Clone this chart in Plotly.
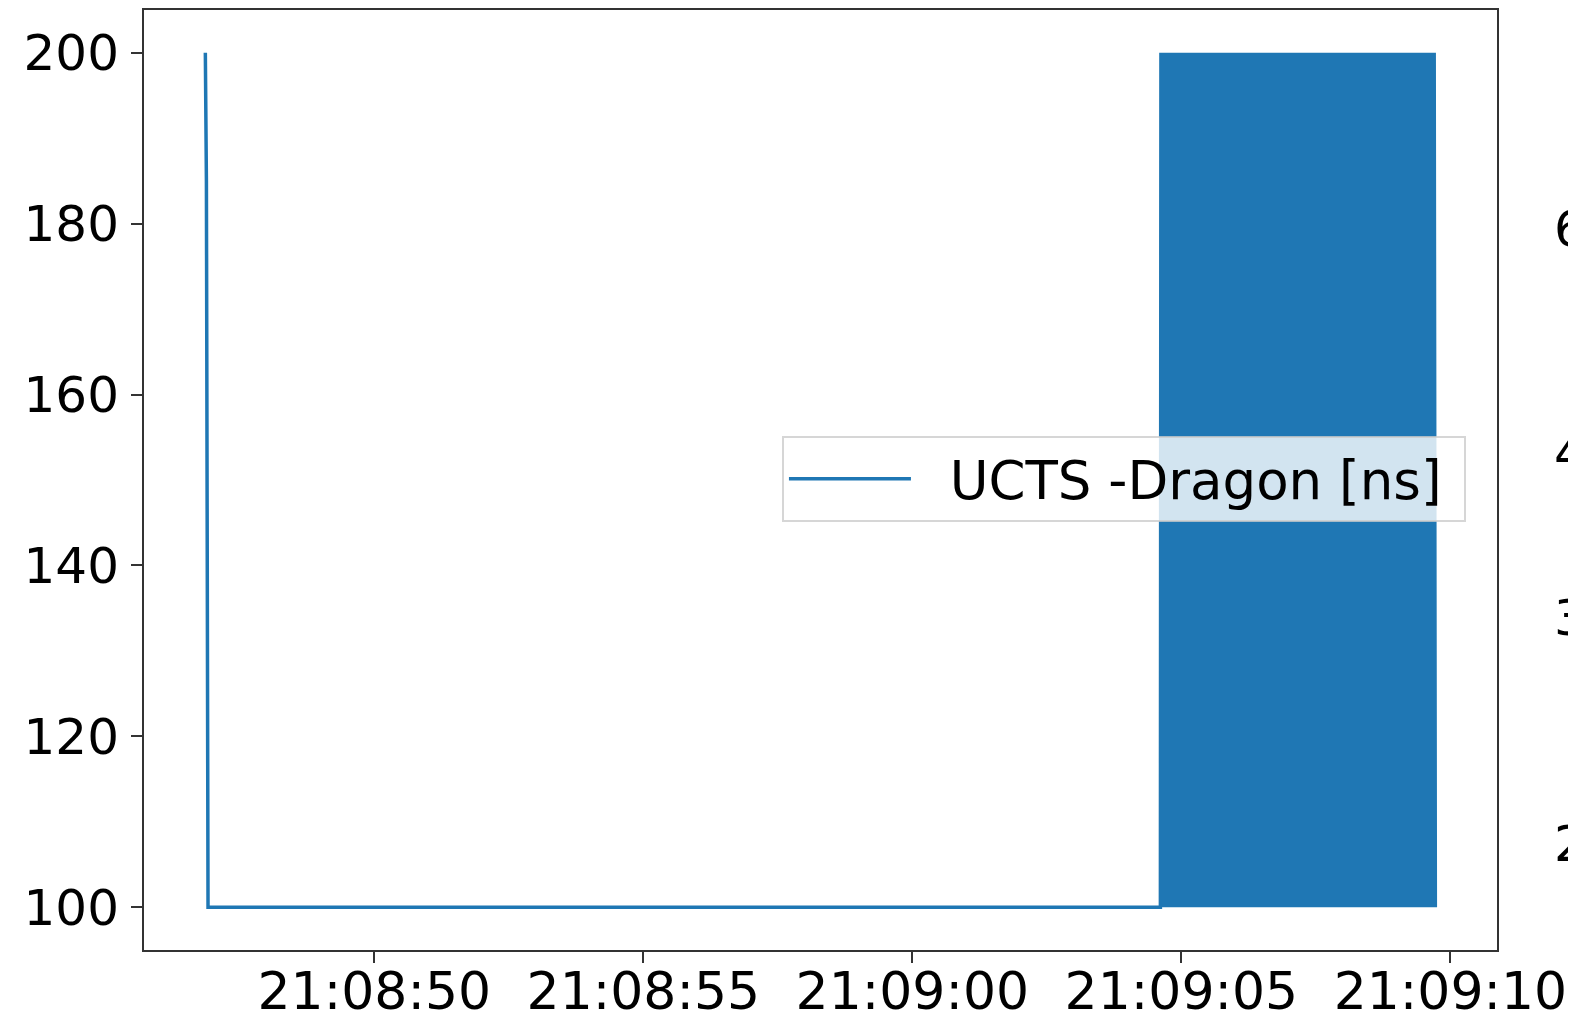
import pandas as pd
import plotly.graph_objects as go

DAY = "2019-11-20 "

# Sparse part of the series: initial spike, then flat at 100 ns
lead_times = ["21:08:46.86", "21:08:46.88", "21:08:46.91", "21:09:04.61"]
lead_values = [200, 185, 100, 100]

# Dense oscillating part (values read as alternating 200 / 100 ns)
dense_start = "21:09:04.62"
dense_end = "21:09:09.72"
dense_values = [
    200, 100, 200, 100, 200, 100, 200, 100, 200, 100, 200, 100, 200, 100, 200, 100, 200, 100, 200, 100,
    200, 100, 200, 100, 200, 100, 200, 100, 200, 100, 200, 100, 200, 100, 200, 100, 200, 100, 200, 100,
    200, 100, 200, 100, 200, 100, 200, 100, 200, 100, 200, 100, 200, 100, 200, 100, 200, 100, 200, 100,
    200, 100, 200, 100, 200, 100, 200, 100, 200, 100, 200, 100, 200, 100, 200, 100, 200, 100, 200, 100,
    200, 100, 200, 100, 200, 100, 200, 100, 200, 100, 200, 100, 200, 100, 200, 100, 200, 100, 200, 100,
    200, 100, 200, 100, 200, 100, 200, 100, 200, 100, 200, 100, 200, 100, 200, 100, 200, 100, 200, 100,
    200, 100, 200, 100, 200, 100, 200, 100, 200, 100, 200, 100, 200, 100, 200, 100, 200, 100, 200, 100,
    200, 100, 200, 100, 200, 100, 200, 100, 200, 100, 200, 100, 200, 100, 200, 100, 200, 100, 200, 100,
    200, 100, 200, 100, 200, 100, 200, 100, 200, 100, 200, 100, 200, 100, 200, 100, 200, 100, 200, 100,
    200, 100, 200, 100, 200, 100, 200, 100, 200, 100, 200, 100, 200, 100, 200, 100, 200, 100, 200, 100,
    200, 100, 200, 100, 200, 100, 200, 100, 200, 100, 200, 100, 200, 100, 200, 100, 200, 100, 200, 100,
    200, 100, 200, 100, 200, 100, 200, 100, 200, 100, 200, 100, 200, 100, 200, 100, 200, 100, 200, 100,
]

series_name = "UCTS -Dragon [ns]"
y_ticks = [100, 120, 140, 160, 180, 200]
x_ticks = ["21:08:50", "21:08:55", "21:09:00", "21:09:05", "21:09:10"]
x_range = ["21:08:45.72", "21:09:10.866"]
y_range = [95, 205]

# Neighbouring subplot's tick labels, cut off at the right edge (as in the source image)
side_labels = ["6", "4", "3", "2"]
side_label_pos = [0.767, 0.528, 0.353, 0.113]

lead_t = pd.to_datetime([DAY + t for t in lead_times])
dense_t = pd.date_range(DAY + dense_start, DAY + dense_end, periods=len(dense_values))
times = list(lead_t) + list(dense_t)
values = lead_values + dense_values

FONT = "DejaVu Sans"
BLUE = "#1f77b4"

fig = go.Figure()
fig.add_trace(go.Scatter(
    x=times, y=values, mode="lines", name="\u00a0\u00a0" + series_name + "\u00a0",
    line=dict(color=BLUE, width=3.5),
    showlegend=True,
))

# page body has an 8px default margin, so the figure is 8px smaller than the window
fig.update_layout(
    width=1568, height=1012,
    margin=dict(l=136, r=79, t=2, b=70, autoexpand=False),
    paper_bgcolor="white", plot_bgcolor="white",
    font=dict(family=FONT, size=50, color="black"),
    showlegend=True,
    legend=dict(
        x=0.4715, y=0.547, xanchor="left", yanchor="top",
        bgcolor="rgba(255,255,255,0.8)",
        bordercolor="rgba(204,204,204,0.8)", borderwidth=2,
        font=dict(family=FONT, size=53, color="black"),
        itemwidth=122,
    ),
)

fig.update_xaxes(
    type="date",
    range=[DAY + x_range[0], DAY + x_range[1]],
    tickvals=[DAY + t for t in x_ticks],
    ticktext=x_ticks,
    ticks="outside", ticklen=11, tickwidth=2, tickcolor="#333",
    showline=True, linecolor="#333", linewidth=2, mirror=True,
    showgrid=False, zeroline=False, automargin=False,
    tickfont=dict(family=FONT, size=52, color="black"),
    ticklabelstandoff=-16,
)
fig.update_yaxes(
    range=y_range,
    tickvals=y_ticks,
    ticks="outside", ticklen=11, tickwidth=2, tickcolor="#333",
    showline=True, linecolor="#333", linewidth=2, mirror=True,
    showgrid=False, zeroline=False, automargin=False,
    tickfont=dict(family=FONT, size=50, color="black"),
    ticklabelstandoff=2,
)

for lab, yp in zip(side_labels, side_label_pos):
    fig.add_annotation(
        text=lab, xref="paper", yref="paper", x=1.041, y=yp,
        xanchor="left", yanchor="middle", showarrow=False,
        font=dict(family=FONT, size=50, color="black"),
    )

fig.write_html("out.html")
